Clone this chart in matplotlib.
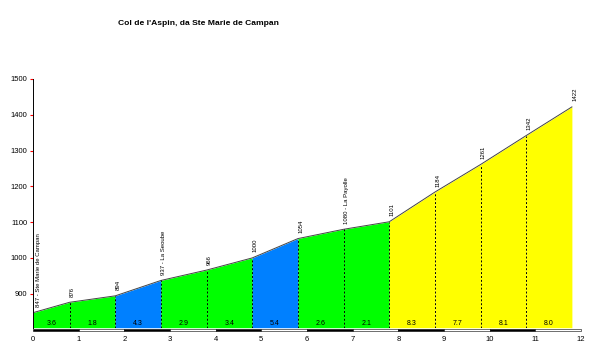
import matplotlib.pyplot as plt
from matplotlib.patches import Rectangle

# profilo: distanze (km) e quote (m)
km = [0, 0.8, 1.8, 2.8, 3.8, 4.8, 5.8, 6.8, 7.8, 8.8, 9.8, 10.8, 11.8]
quota = [847, 876, 894, 937, 966, 1000, 1054, 1080, 1101, 1184, 1261, 1342, 1422]
etichette = ['847 - Ste Marie de Campan', '876', '894', '937 - La Seoube', '966', '1000',
             '1054', '1080 - La Payolle', '1101', '1184', '1261', '1342', '1422']
pendenze = [3.6, 1.8, 4.3, 2.9, 3.4, 5.4, 2.6, 2.1, 8.3, 7.7, 8.1, 8.0]
x_ticks = list(range(0, 13))
y_ticks = [900, 1000, 1100, 1200, 1300, 1400, 1500]
titolo = "Col de l'Aspin, da Ste Marie de Campan"


def colore(p):
    # colore in base alla pendenza
    if p < 4:
        return '#00ff00'
    elif p < 6:
        return '#0080ff'
    return '#ffff00'


plt.rcParams['font.family'] = ['Liberation Sans', 'DejaVu Sans']

fig = plt.figure(figsize=(5.99, 3.55), dpi=100)
ax = fig.add_axes([0.0551, 0.0769, 0.9149, 0.7006])
ymin = 805

for i in range(len(pendenze)):
    x0, x1 = km[i], km[i + 1]
    ax.fill_between([x0, x1], [quota[i], quota[i + 1]], ymin,
                    color=colore(pendenze[i]), linewidth=0)
    ax.text((x0 + x1) / 2, ymin + 2, f'{pendenze[i]:.1f}', ha='center', va='bottom',
            fontsize=5)

ax.plot(km, quota, color='#444444', linewidth=0.7)

# linee tratteggiate ai punti intermedi
for i in range(1, len(km) - 1):
    ax.plot([km[i], km[i]], [ymin, quota[i]], color='black', linestyle=(0, (2, 2)),
            linewidth=0.7)

# etichette dei punti
for i in range(len(km)):
    dx = 4 if i == 0 else 2
    ax.annotate(etichette[i], (km[i], quota[i]), xytext=(dx, 4), textcoords='offset points',
                rotation=90, ha='center', va='bottom', fontsize=4.3)

# barra della scala chilometrica
for k in range(12):
    ax.add_patch(Rectangle((k, ymin - 9), 1, 6, facecolor='black' if k % 2 == 0 else 'white',
                           edgecolor='black', linewidth=0.4, clip_on=False))

ax.set_xlim(0, 12)
ax.set_ylim(ymin, 1500)
ax.set_xticks(x_ticks)
ax.set_yticks(y_ticks)
ax.tick_params(axis='x', length=0, labelsize=5.5, pad=6)
ax.tick_params(axis='y', length=2, color='red', labelsize=5.5, pad=2)
for s in ['top', 'right', 'bottom']:
    ax.spines[s].set_visible(False)
ax.spines['left'].set_linewidth(0.7)

fig.text(0.331, 0.935, titolo, ha='center', va='center', fontsize=6.1, fontweight='bold')

fig.savefig('out.png', dpi=100)
